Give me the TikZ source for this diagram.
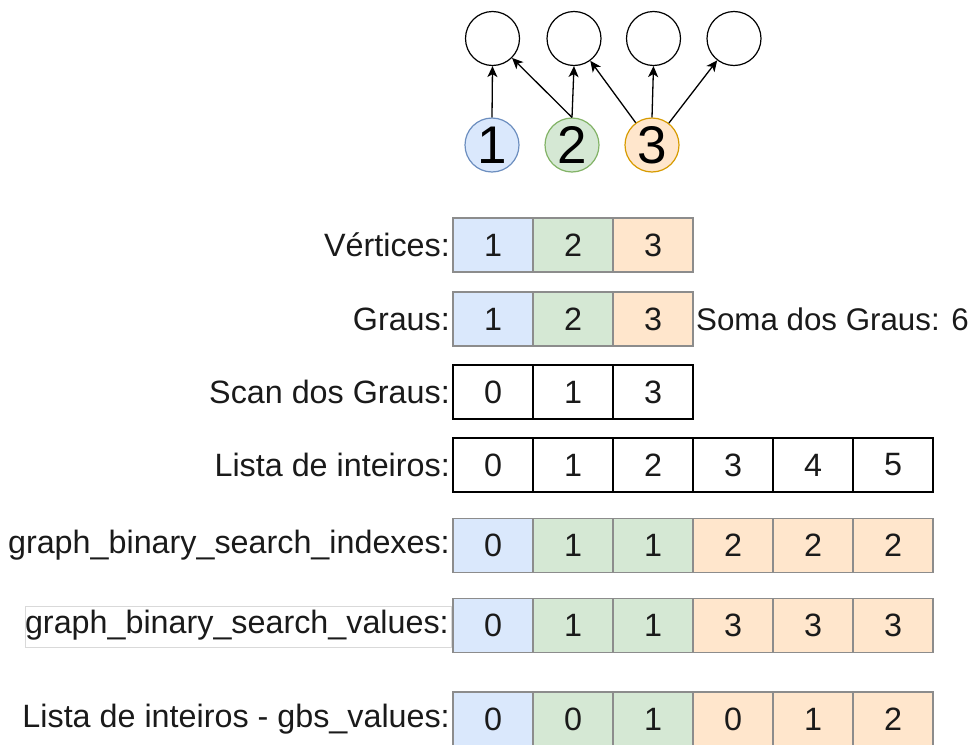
\documentclass[tikz,border=0pt]{standalone}
\usepackage{fontspec}
\setmainfont{Liberation Sans}
\usetikzlibrary{arrows.meta}
\definecolor{bfill}{HTML}{DAE8FC}
\definecolor{bline}{HTML}{6C8EBF}
\definecolor{gfill}{HTML}{D5E8D4}
\definecolor{gline}{HTML}{82B366}
\definecolor{ofill}{HTML}{FFE6CC}
\definecolor{oline}{HTML}{D79B00}
\definecolor{cgray}{HTML}{8C8C8C}
\definecolor{txt}{HTML}{1A1A1A}
\newcommand\cellrow[3]{%
  \foreach \v/\c [count=\i] in {#3} {
    \node[cellbox,c\c] (#1-\i) at ({493+80*(\i-1)},#2) {\v};
  }%
}
\begin{document}
\begin{tikzpicture}[x=1pt,y=-1pt,
  txtfont/.style={font=\fontsize{32.3}{38}\selectfont, text=txt},
  cellbox/.style={rectangle, minimum width=80pt, minimum height=54pt, inner sep=0pt, outer sep=0pt, line width=1.2pt, txtfont},
  cB/.style={fill=bfill, draw=cgray},
  cG/.style={fill=gfill, draw=cgray},
  cO/.style={fill=ofill, draw=cgray},
  cW/.style={fill=white, draw=black},
  rowlabel/.style={anchor=east, inner sep=0pt, txtfont},
  topnode/.style={circle, draw=black, line width=1.2pt, minimum size=54pt, inner sep=0pt},
  vnode/.style={circle, line width=1.2pt, minimum size=54pt, inner sep=0pt, font=\fontsize{53}{60}\selectfont},
  arr/.style={line width=1.3pt, -{Stealth[length=11pt,width=10pt,inset=3pt]}}
]
\useasboundingbox (0,0) rectangle (974,744);
% graph
\node[topnode] (t1) at (492.5,38.5) {};
\node[topnode] (t2) at (574,38.5) {};
\node[topnode] (t3) at (653.5,38.5) {};
\node[topnode] (t4) at (734,38.5) {};
\node[vnode, fill=bfill, draw=bline] (b1) at (492,145) {1};
\node[vnode, fill=gfill, draw=gline] (b2) at (572,145) {2};
\node[vnode, fill=ofill, draw=oline] (b3) at (652,145) {3};
\draw[arr] (b1.north) -- (t1.south);
\draw[arr] (b2.north) -- (t1);
\draw[arr] (b2.north) -- (t2.south);
\draw[arr] (b3) -- (t2);
\draw[arr] (b3.north) -- (t3.south);
\draw[arr] (b3) -- (t4);
% rows
\node[rowlabel] (l1) at (450,245) {Vértices:};
\cellrow{r1}{245}{1/B,2/G,3/O}
\node[rowlabel] (l2) at (450,319) {Graus:};
\cellrow{r2}{319}{1/B,2/G,3/O}
\node[anchor=west, inner sep=0pt, font=\fontsize{31.3}{36}\selectfont, text=txt] (soma) at (696,319) {Soma dos Graus: 6};
\node[rowlabel] (l3) at (450,392) {Scan dos Graus:};
\cellrow{r3}{392}{0/W,1/W,3/W}
\node[rowlabel] (l4) at (450,465) {Lista de inteiros:};
\cellrow{r4}{465}{0/W,1/W,2/W,3/W,4/W,5/W}
\node[rowlabel] (l5) at (450,545.5) {graph\_binary\_search\_indexes:};
\cellrow{r5}{545.5}{0/B,1/G,1/G,2/O,2/O,2/O}
\node[rowlabel] (l6) at (449,625.5) {graph\_binary\_search\_values:};
\draw[draw=black!15, line width=0.8pt] (25,606) rectangle (451,647);
\cellrow{r6}{625.5}{0/B,1/G,1/G,3/O,3/O,3/O}
\node[rowlabel] (l7) at (450,719) {Lista de inteiros - gbs\_values:};
\cellrow{r7}{719}{0/B,0/G,1/G,0/O,1/O,2/O}
\end{tikzpicture}
\end{document}
